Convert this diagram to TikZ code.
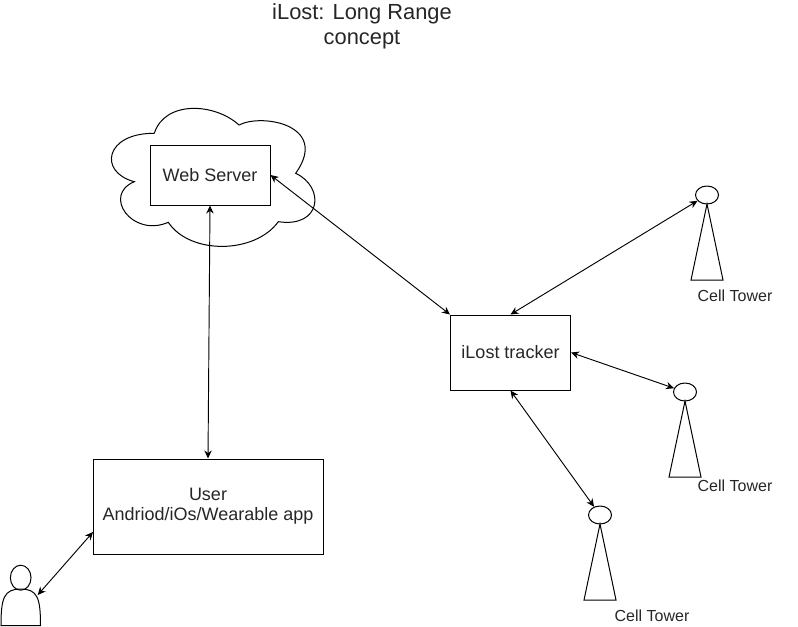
\documentclass[tikz,border=0pt]{standalone}
\usepackage{fontspec}
\setmainfont{Liberation Sans}
\usetikzlibrary{shapes.geometric,arrows.meta}

\tikzset{
  box/.style={draw, line width=0.75pt, inner sep=0pt, align=center, text=black!85, font=\fontsize{13.5}{15}\selectfont},
  caption/.style={inner sep=0pt, text=black!85, font=\fontsize{12}{14}\selectfont},
  link/.style={{Stealth[length=6pt,width=5.5pt]}-{Stealth[length=6pt,width=5.5pt]}, line width=0.7pt},
  outline/.style={line width=0.75pt},
}

\NewDocumentCommand{\celltower}{mmmmm}{%
\begin{scope}[shift={(#2,#3)}]%
\node[draw, ellipse, outline, inner sep=0pt, minimum width=17.25pt, minimum height=13.5pt] (#1) at (0,0) {};
\draw[outline] (0,9) -- (16,85) -- (-16,85) -- cycle;
\node[caption] (#1label) at (#4,#5) {Cell Tower};
\end{scope}%
}

\begin{document}
\begin{tikzpicture}[x=0.75pt, y=-0.75pt]
    \useasboundingbox (0,0) rectangle (798,626);

    \node[align=center, inner sep=0pt, font=\fontsize{16.4}{18.75}\selectfont, text=black!85] (title) at (362,26.5) {iLost: Long Range\\concept};

    % cloud
    \draw[outline] (154.3,133.3) .. controls (165,100) and (215,103) .. (239,125)
        .. controls (262,113) and (330,125) .. (295.7,173.3)
        .. controls (325,187) and (322,228) .. (278.3,221.7)
        .. controls (255,254) and (190,255) .. (168.3,222.3)
        .. controls (132,238) and (102,195) .. (134.3,181.7)
        .. controls (98,172) and (105,133) .. (154.3,133.3);

    \node[box, minimum width=90pt, minimum height=45pt] (web) at (210,175) {Web Server};
    \node[box, minimum width=90pt, minimum height=56.25pt] (tracker) at (510.5,352.5) {iLost tracker};
    \node[box, minimum width=172.5pt, minimum height=71.25pt] (user) at (208,506.5) {User\\Andriod/iOs/Wearable app};

    \celltower{towerA}{707}{195}{28}{101}
    \celltower{towerB}{685}{392}{50}{94}
    \celltower{towerC}{600}{515}{52}{101}

    % person
    \node[draw, ellipse, outline, inner sep=0pt, minimum width=15.5pt, minimum height=18.75pt] (head) at (20.7,577.7) {};
    \draw[outline] (1,625.5) .. controls (1,598) and (4,589) .. (20.7,589)
        .. controls (37.5,589) and (40.5,598) .. (40.5,625.5) -- cycle;
    \coordinate (shoulder) at (37.7,595);
    \coordinate (userside) at (93,532);

    \draw[link] (web.south) -- (user.north);
    \draw[link] (web.east) -- (tracker.north west);
    \draw[link] (tracker.north) -- (towerA);
    \draw[link] (tracker.east) -- (towerB);
    \draw[link] (tracker.south) -- (towerC);
    \draw[link] (userside) -- (shoulder);
\end{tikzpicture}
\end{document}
